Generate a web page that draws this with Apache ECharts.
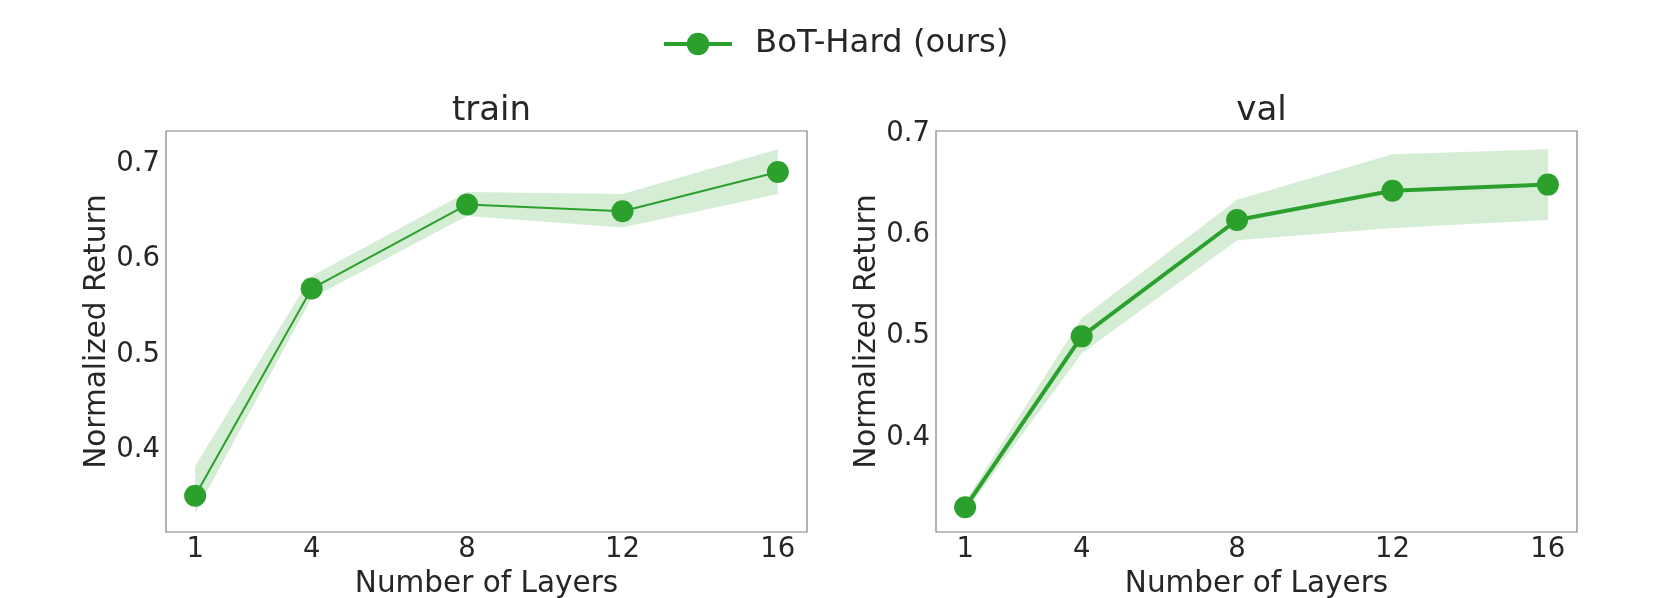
<!DOCTYPE html>
<html>
<head>
<meta charset="utf-8">
<script src="https://cdn.jsdelivr.net/npm/echarts@6/dist/echarts.min.js"></script>
<style>
html,body{margin:0;padding:0;background:#fff;}
#chart{width:1661px;height:598px;}
</style>
</head>
<body>
<div id="chart"></div>
<script>
const seriesName = 'BoT-Hard (ours)';
const layers = [1, 4, 8, 12, 16];
const trainMean = [0.352, 0.569, 0.657, 0.650, 0.691];
const trainLow  = [0.334, 0.559, 0.645, 0.633, 0.668];
const trainHigh = [0.383, 0.582, 0.670, 0.668, 0.715];
const valMean = [0.331, 0.500, 0.615, 0.644, 0.650];
const valLow  = [0.326, 0.483, 0.595, 0.607, 0.615];
const valHigh = [0.337, 0.518, 0.635, 0.680, 0.685];
const yTicks = [0.4, 0.5, 0.6, 0.7];
const xTicks = [1, 4, 8, 12, 16];
const panelTitles = ['train', 'val'];

const GREEN = '#2ca02c';
const BAND = 'rgba(44,160,44,0.2)';
const TEXT = '#262626';
const FONT = 'DejaVu Sans';

const grids = [
  {left: 166, top: 131, width: 641, height: 401},
  {left: 936, top: 131, width: 641, height: 401}
];
const yRanges = [[0.314, 0.734], [0.3066, 0.703]];

function bandSeries(idx, low, high) {
  return {
    type: 'custom', xAxisIndex: idx, yAxisIndex: idx, silent: true, z: 1,
    data: [[layers[0], low[0]]],
    renderItem: function (params, api) {
      const pts = [];
      for (let i = 0; i < layers.length; i++) pts.push(api.coord([layers[i], high[i]]));
      for (let i = layers.length - 1; i >= 0; i--) pts.push(api.coord([layers[i], low[i]]));
      return {type: 'polygon', shape: {points: pts}, style: {fill: BAND}};
    }
  };
}
function lineSeries(idx, mean, width) {
  return {
    name: seriesName, type: 'line', xAxisIndex: idx, yAxisIndex: idx, z: 3,
    data: layers.map((x, i) => [x, mean[i]]),
    symbol: 'circle', symbolSize: 22, showSymbol: true,
    lineStyle: {color: GREEN, width: width},
    itemStyle: {color: GREEN},
    emphasis: {disabled: true},
    animation: false
  };
}

const option = {
  animation: false,
  backgroundColor: '#fff',
  textStyle: {fontFamily: FONT, color: TEXT},
  title: panelTitles.map((t, i) => ({
    text: t,
    left: grids[i].left + grids[i].width / 2,
    textAlign: 'center',
    top: 89,
    textStyle: {fontFamily: FONT, fontSize: 34, fontWeight: 'normal', color: TEXT}
  })),
  legend: {
    data: [seriesName],
    left: 657, top: 23,
    itemWidth: 68, itemHeight: 28,
    lineStyle: {width: 4},
    textStyle: {fontFamily: FONT, fontSize: 32.3, color: TEXT, padding: [0, 0, 0, 18]}
  },
  grid: grids.map(g => Object.assign({show: true, borderColor: '#808080', borderWidth: 1.2, backgroundColor: 'transparent', outerBoundsMode: 'none', containLabel: false}, g)),
  xAxis: grids.map((g, i) => ({
    type: 'value', gridIndex: i, min: 0.25, max: 16.75,
    name: 'Number of Layers', nameLocation: 'middle', nameGap: 30,
    nameTextStyle: {fontFamily: FONT, fontSize: 29.5, color: TEXT},
    axisLine: {show: false}, axisTick: {show: false}, splitLine: {show: false},
    axisLabel: {customValues: xTicks, fontFamily: FONT, fontSize: 27.5, color: TEXT, margin: 4}
  })),
  yAxis: grids.map((g, i) => ({
    type: 'value', gridIndex: i, min: yRanges[i][0], max: yRanges[i][1],
    name: 'Normalized Return', nameLocation: 'middle', nameGap: 52,
    nameTextStyle: {fontFamily: FONT, fontSize: 29.5, color: TEXT},
    axisLine: {show: false}, axisTick: {show: false}, splitLine: {show: false},
    axisLabel: {customValues: yTicks, formatter: v => v.toFixed(1), fontFamily: FONT, fontSize: 27.5, color: TEXT, margin: 6}
  })),
  series: [
    bandSeries(0, trainLow, trainHigh),
    bandSeries(1, valLow, valHigh),
    lineSeries(1, valMean, 4),
    lineSeries(0, trainMean, 2)
  ]
};

const chart = echarts.init(document.getElementById('chart'), null, {renderer: 'canvas'});
chart.setOption(option);
</script>
</body>
</html>
